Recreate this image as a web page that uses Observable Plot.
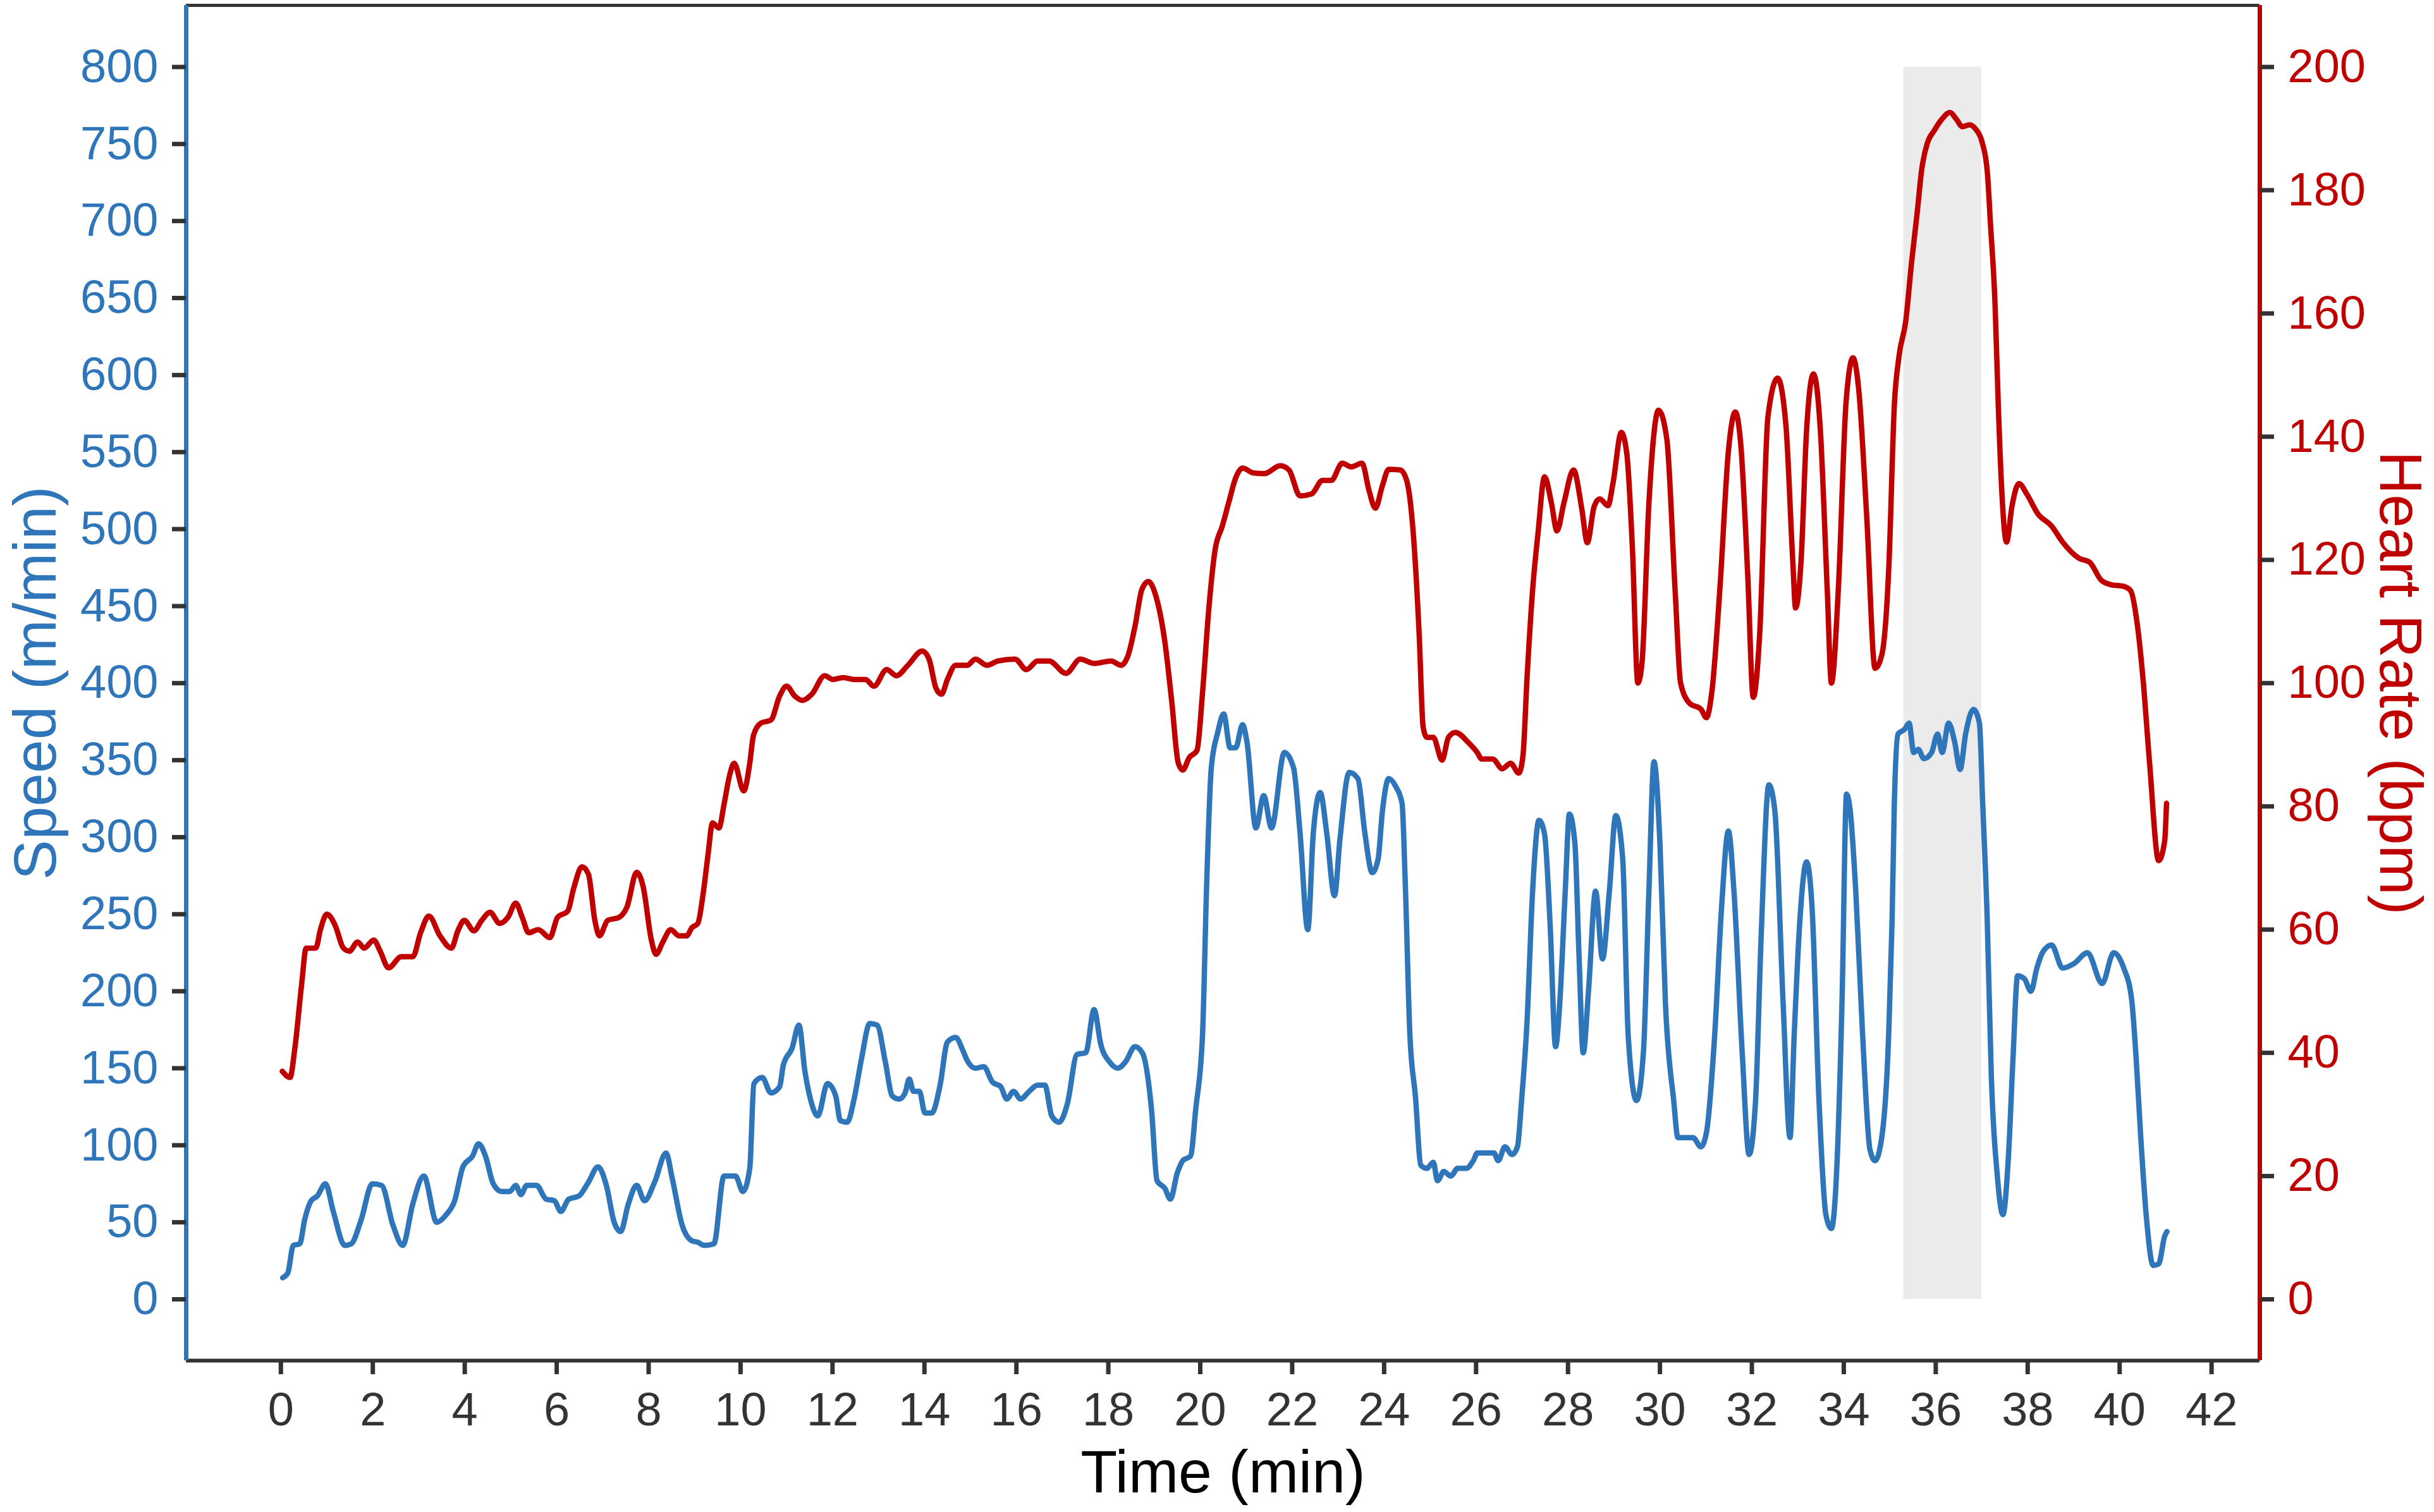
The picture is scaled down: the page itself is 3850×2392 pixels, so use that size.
<!DOCTYPE html>
<html>
<head>
<meta charset="utf-8">
<script src="https://cdn.jsdelivr.net/npm/d3@7"></script>
<script src="https://cdn.jsdelivr.net/npm/@observablehq/plot@0.6"></script>
<style>
  html, body { margin: 0; padding: 0; background: #ffffff; }
  #chart svg { display: block; }
</style>
</head>
<body>
<div id="chart"></div>
<script>
// ---- data ----
const speedTime = [0.04,0.15,0.27,0.41,0.52,0.66,0.79,0.97,1.14,1.39,1.53,1.74,1.99,2.19,2.44,2.65,2.87,3.11,3.39,3.60,3.78,3.96,4.17,4.30,4.45,4.62,4.80,4.98,5.11,5.22,5.35,5.56,5.77,5.95,6.09,6.26,6.48,6.69,6.90,7.08,7.25,7.39,7.56,7.74,7.91,8.13,8.38,8.51,8.73,8.94,9.07,9.21,9.42,9.64,9.89,10.05,10.20,10.29,10.47,10.66,10.85,10.93,11.12,11.27,11.40,11.52,11.68,11.89,12.07,12.17,12.32,12.47,12.63,12.81,12.97,13.15,13.30,13.45,13.58,13.67,13.76,13.89,14.01,14.16,14.34,14.50,14.68,14.83,14.93,15.11,15.29,15.48,15.66,15.79,15.94,16.09,16.28,16.46,16.62,16.77,16.93,17.11,17.32,17.51,17.69,17.84,18.03,18.21,18.37,18.58,18.74,18.94,19.06,19.23,19.35,19.50,19.62,19.79,19.90,20.05,20.14,20.24,20.38,20.51,20.65,20.77,20.92,21.02,21.21,21.38,21.55,21.83,22.03,22.17,22.34,22.46,22.61,22.75,22.92,23.04,23.24,23.43,23.58,23.74,23.87,23.96,24.10,24.25,24.39,24.46,24.56,24.68,24.80,24.93,25.07,25.16,25.30,25.45,25.60,25.79,25.94,26.03,26.39,26.48,26.63,26.78,26.90,26.99,27.11,27.23,27.37,27.49,27.61,27.73,27.82,27.94,28.03,28.15,28.24,28.33,28.45,28.60,28.75,28.90,29.04,29.19,29.31,29.49,29.64,29.76,29.87,30.00,30.12,30.30,30.39,30.72,30.89,31.01,31.19,31.34,31.49,31.61,31.79,31.94,32.08,32.20,32.37,32.50,32.68,32.83,32.92,33.04,33.19,33.31,33.46,33.61,33.73,33.85,33.96,34.06,34.14,34.26,34.41,34.57,34.68,34.83,34.98,35.05,35.10,35.18,35.32,35.42,35.52,35.62,35.74,35.91,36.04,36.14,36.28,36.41,36.53,36.65,36.82,36.95,37.02,37.12,37.21,37.34,37.46,37.58,37.68,37.78,37.93,38.07,38.20,38.32,38.52,38.76,39.01,39.30,39.62,39.87,40.09,40.26,40.36,40.46,40.58,40.73,40.85,40.98,41.03];
const speedValue = [14,17,35,36,52,64,67,75,57,35,36,51,75,74,48,35,62,80,50,55,64,86,93,101,93,75,70,70,74,68,74,74,65,64,57,65,67,76,86,74,50,44,62,74,64,76,95,79,48,38,37,35,36,80,80,70,85,140,144,134,138,152,163,178,148,130,119,140,132,116,115,130,156,179,178,154,132,130,134,143,135,135,121,121,139,167,170,162,155,150,151,141,138,130,135,130,135,139,139,119,115,127,159,160,188,165,154,150,154,164,160,123,77,72,65,82,90,93,123,172,270,345,368,380,358,358,373,361,306,327,306,355,345,303,240,303,329,303,262,299,342,338,303,277,286,316,338,333,322,270,172,132,87,85,89,77,83,80,85,85,90,95,95,90,99,94,99,129,181,265,311,302,244,164,192,265,315,296,223,160,202,265,221,265,314,286,171,129,160,265,349,296,192,129,105,105,99,108,171,254,304,265,160,94,129,234,334,317,192,105,171,244,284,254,129,55,46,87,192,328,317,265,171,97,90,106,175,246,323,367,370,374,355,357,351,355,367,355,374,362,344,367,383,374,323,246,144,80,55,92,156,210,208,200,215,225,230,215,218,225,205,225,215,195,156,105,54,22,23,41,44];

const hrTime = [0.03,0.20,0.30,0.45,0.55,0.76,0.86,1.00,1.18,1.36,1.49,1.67,1.81,2.02,2.16,2.34,2.62,2.87,3.04,3.22,3.46,3.71,3.85,3.99,4.20,4.37,4.55,4.76,4.94,5.11,5.25,5.39,5.60,5.85,6.02,6.24,6.37,6.55,6.69,6.83,6.93,7.11,7.36,7.53,7.74,7.88,8.06,8.16,8.31,8.48,8.66,8.83,8.94,9.07,9.18,9.29,9.39,9.53,9.64,9.76,9.86,10.07,10.20,10.28,10.44,10.66,10.85,11.00,11.18,11.34,11.55,11.83,12.01,12.23,12.47,12.72,12.90,13.18,13.39,13.64,13.95,14.10,14.25,14.37,14.50,14.68,14.93,15.11,15.36,15.60,15.97,16.22,16.46,16.71,17.08,17.39,17.69,18.06,18.28,18.43,18.58,18.73,18.87,19.04,19.23,19.38,19.52,19.62,19.76,19.93,20.05,20.19,20.32,20.48,20.63,20.77,20.92,21.16,21.40,21.74,21.93,22.17,22.42,22.66,22.85,23.09,23.28,23.52,23.67,23.81,23.96,24.10,24.35,24.49,24.63,24.76,24.85,24.93,25.07,25.26,25.40,25.55,25.84,26.03,26.12,26.36,26.57,26.75,26.93,27.02,27.11,27.23,27.35,27.49,27.64,27.76,27.91,28.12,28.30,28.42,28.57,28.69,28.87,28.98,29.16,29.28,29.40,29.52,29.61,29.76,29.97,30.15,30.33,30.45,30.65,30.89,31.01,31.13,31.31,31.49,31.64,31.76,31.91,32.03,32.17,32.35,32.56,32.74,32.89,32.95,33.07,33.19,33.34,33.49,33.64,33.73,33.88,34.05,34.20,34.32,34.50,34.68,34.83,34.98,35.10,35.20,35.35,35.47,35.60,35.69,35.82,35.96,36.11,36.31,36.45,36.58,36.73,36.87,37.00,37.12,37.19,37.29,37.36,37.44,37.54,37.66,37.81,37.98,38.22,38.52,38.76,39.11,39.35,39.60,39.80,40.09,40.24,40.39,40.51,40.65,40.85,40.98,41.02];
const hrValue = [37,36,40.5,51,57,57,60,62.5,60.7,57,56.5,58,57,58.3,56.5,53.8,55.6,55.6,59.5,62.2,59,57,59.8,61.5,59.8,61.5,62.8,61,62,64.3,62,59.5,60,58.7,62,63,66.7,70.2,69,61.5,59,61.5,62,63.7,69.3,67,58.3,56,58,60,59,59,60.3,61,65.5,72,77.3,76.5,80.3,85,87,82.5,87,91.5,93.5,94,97.9,99.5,97.9,97.2,98.2,101.2,100.6,100.9,100.6,100.6,99.5,102.2,101.2,102.9,105.2,103.9,99.2,98.2,100.6,102.9,102.9,103.9,102.9,103.6,103.9,102.2,103.6,103.6,101.6,103.9,103.2,103.6,102.9,104.5,109.2,115.2,116.5,114,106.7,97,87.1,85.9,87.9,89.1,98.5,112.4,121.5,125.5,129.6,133.3,134.9,134.1,134,135.3,134.6,130.4,130.7,132.9,132.9,135.7,135.1,135.7,131.3,128.4,132,134.7,134.6,132.9,124.7,108.3,92.8,91.2,91.2,87.5,91.2,92,90.3,88.7,87.7,87.7,86.1,87,85.4,88.2,101,115.1,124.5,133.5,129.2,124.7,129.2,134.6,128.3,122.8,128.7,129.9,128.8,132.5,140.7,137.2,122.1,100,103.3,129.2,144.3,139.6,115.1,100,96.7,95.8,94.4,98.6,116,137.7,144,138.6,117.5,97.7,108,143.3,149.5,141.9,119.8,112.2,119.8,141,150.2,141,115.1,100,115.1,145.7,152.8,148,126.8,102.4,104.7,119,145.2,153,158.9,168,176.6,183.1,187.7,189.6,191.3,192.6,191.5,190.3,190.6,189.9,188,183.1,174.6,161.5,145.2,130.7,122.9,128.8,132.4,130.7,127.5,125.5,122.9,120.3,119.6,116.7,116,115.7,115,109.2,100.6,87.2,71.2,74.4,80.5];

// shaded interval (min)
const shadeStart = 35.3;
const shadeEnd = 37.0;
const shadeTop = 800;

// tick values
const xTicks = d3.range(0, 43, 2);
const speedTicks = d3.range(0, 801, 50);
const hrTicks = d3.range(0, 201, 20);
const hrToSpeed = 4; // right axis 0–200 bpm spans left axis 0–800 m/min

const speedData = speedTime.map((t, i) => ({t, v: speedValue[i]}));
const hrData = hrTime.map((t, i) => ({t, v: hrValue[i]}));

const BLUE = "#2e75b9";
const RED = "#c00000";
const INK = "#333333";

const xDomain = [-2.06, 43.05];
const yDomain = [-39.8, 840];

const chart = Plot.plot({
  width: 3850,
  height: 2392,
  marginLeft: 294,
  marginRight: 276,
  marginTop: 8,
  marginBottom: 240,
  style: {fontFamily: "'Liberation Sans', Arial, sans-serif", fontSize: "74px", background: "#ffffff"},
  x: {domain: xDomain},
  y: {domain: yDomain},
  marks: [
    Plot.rect([{x1: shadeStart, x2: shadeEnd, y1: 0, y2: shadeTop}], {x1: "x1", x2: "x2", y1: "y1", y2: "y2", fill: "#ebebeb"}),
    Plot.line(speedData, {x: "t", y: "v", stroke: BLUE, strokeWidth: 8.5, curve: "monotone-x", strokeLinejoin: "round"}),
    Plot.line(hrData, {x: "t", y: d => d.v * hrToSpeed, stroke: RED, strokeWidth: 8.5, curve: "monotone-x", strokeLinejoin: "round"}),
    // frame lines
    Plot.ruleY([yDomain[1]], {x1: xDomain[0], x2: xDomain[1], stroke: INK, strokeWidth: 5}),
    Plot.ruleY([yDomain[0]], {x1: xDomain[0], x2: xDomain[1], stroke: INK, strokeWidth: 6}),
    Plot.ruleX([xDomain[0]], {y1: yDomain[0], y2: yDomain[1], stroke: BLUE, strokeWidth: 7}),
    Plot.ruleX([xDomain[1]], {y1: yDomain[0], y2: yDomain[1], stroke: RED, strokeWidth: 7}),
    // axes
    Plot.axisX(xTicks, {anchor: "bottom", tickSize: 22, tickPadding: 28, stroke: INK, strokeWidth: 7, fill: INK, fontSize: 74, label: null}),
    Plot.axisY(speedTicks, {anchor: "left", tickSize: 22, tickPadding: 22, stroke: INK, strokeWidth: 7, fill: BLUE, fontSize: 74, label: null}),
    Plot.axisY(hrTicks.map(h => h * hrToSpeed), {anchor: "right", tickSize: 22, tickPadding: 22, stroke: INK, strokeWidth: 7, fill: RED, fontSize: 74, label: null, tickFormat: d => String(d / hrToSpeed)}),
    // axis titles
    Plot.text(["Time (min)"], {frameAnchor: "bottom", dy: 178, text: d => d, fill: "#000000", fontSize: 95, textAnchor: "middle", lineAnchor: "middle"}),
    Plot.text(["Speed (m/min)"], {frameAnchor: "left", dx: -237, rotate: -90, text: d => d, fill: BLUE, fontSize: 95, textAnchor: "middle", lineAnchor: "middle"}),
    Plot.text(["Heart Rate (bpm)"], {frameAnchor: "right", dx: 221, rotate: 90, text: d => d, fill: RED, fontSize: 95, textAnchor: "middle", lineAnchor: "middle"})
  ]
});

document.getElementById("chart").appendChild(chart);
</script>
</body>
</html>
